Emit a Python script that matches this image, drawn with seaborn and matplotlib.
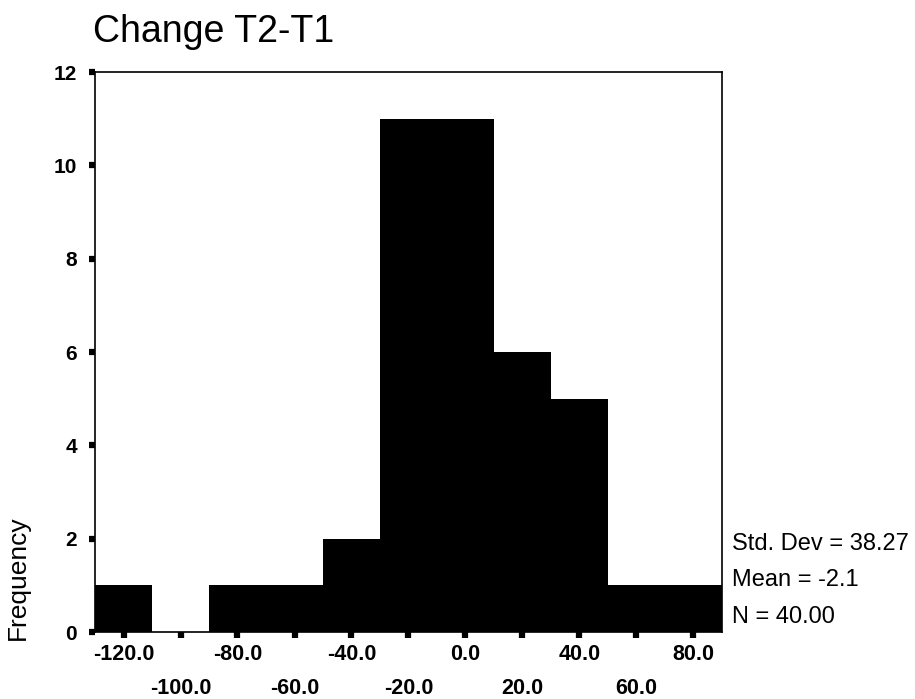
import matplotlib
matplotlib.use("Agg")
import matplotlib.pyplot as plt
import seaborn as sns
import numpy as np

# bin centres and frequencies
bin_centers = [-120, -100, -80, -60, -40, -20, 0, 20, 40, 60, 80]
counts = [1, 0, 1, 1, 2, 11, 11, 6, 5, 1, 1]
bin_width = 20
tick_labels = ["-120.0", "-100.0", "-80.0", "-60.0", "-40.0", "-20.0",
               "0.0", "20.0", "40.0", "60.0", "80.0"]
y_ticks = [0, 2, 4, 6, 8, 10, 12]
stats = ["Std. Dev = 38.27", "Mean = -2.1", "N = 40.00"]

sns.set_style("white")
plt.rcParams["font.family"] = ["Liberation Sans", "DejaVu Sans"]
plt.rcParams["text.color"] = "black"
plt.rcParams["xtick.color"] = "black"
plt.rcParams["ytick.color"] = "black"

fig = plt.figure(figsize=(9.15, 6.99), dpi=100)
ax = fig.add_axes([95 / 915, 1 - 632 / 699, (722 - 95) / 915, (632 - 72) / 699])

edges = [c - bin_width / 2 for c in bin_centers] + [bin_centers[-1] + bin_width / 2]
sns.histplot(x=bin_centers, weights=counts, bins=edges, color="black",
             edgecolor="black", alpha=1, linewidth=0, ax=ax)

ax.set_xlim(edges[0], edges[-1])
ax.set_ylim(0, 12)
ax.set_xticks(bin_centers)
# alternate labels onto a second row, as in the original
ax.set_xticklabels([t if i % 2 == 0 else "\n" + t for i, t in enumerate(tick_labels)],
                   fontsize=15.5, fontweight="bold", linespacing=1.75)
ax.set_yticks(y_ticks)
ax.set_yticklabels([str(v) for v in y_ticks], fontsize=15, fontweight="bold")
ax.tick_params(axis="both", which="major", bottom=True, left=True,
               direction="out", length=4, width=4.5)
ax.tick_params(axis="x", pad=5)
ax.tick_params(axis="y", pad=9)
ax.set_xlabel("")
ax.set_ylabel("")
for s in ax.spines.values():
    s.set_visible(True)
    s.set_color("black")
    s.set_linewidth(1.2)

fig.text(93 / 915, 1 - 32 / 699, "Change T2-T1", fontsize=27, va="center", ha="left")
fig.text(18 / 915, 1 - 578 / 699, "Frequency", fontsize=19, rotation=90,
         va="center", ha="center")
for txt, y in zip(stats, [544, 580, 617]):
    fig.text(732 / 915, 1 - y / 699, txt, fontsize=17, va="center", ha="left")

fig.savefig("out.png", dpi=100)
